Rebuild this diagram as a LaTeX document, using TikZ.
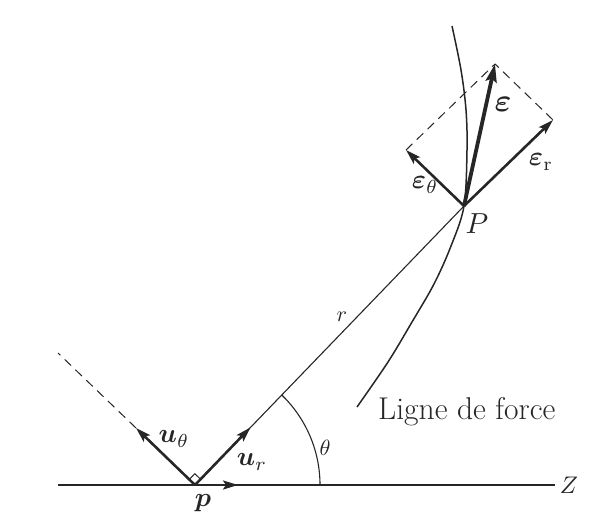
\documentclass[tikz,border=0pt]{standalone}
\usepackage{bm}
\usetikzlibrary{arrows.meta}
\begin{document}
\begin{tikzpicture}[x=1pt,y=1pt,
  ink/.style={draw=black!85},
  thinline/.style={ink,line width=1.1pt},
  fieldline/.style={ink,line width=1.5pt},
  dashline/.style={ink,line width=1pt,dash pattern=on 9pt off 6pt},
  vec/.style={ink,line width=2.6pt,-{Stealth[length=15pt,width=9pt,inset=3pt]}},
  bigvec/.style={ink,line width=3.8pt,-{Stealth[length=18pt,width=11pt,inset=3pt]}},
  lbl/.style={inner sep=0pt,text=black!85,font=\fontsize{10}{10}\selectfont}]
\useasboundingbox (0,0) rectangle (593,522);
% points
\coordinate (p) at (195,37);
\coordinate (P) at (464,316);
\coordinate (axL) at (58,37);
\coordinate (axR) at (555,37);
\coordinate (dpL) at (157,37);
\coordinate (dpR) at (238,37);
\coordinate (ur) at (250.5,94.6);
\coordinate (ut) at (136,94);
\coordinate (dashend) at (58,169);
\coordinate (Er) at (553,402);
\coordinate (Et) at (406,372);
\coordinate (E) at (495,458);
\coordinate (arcA) at (320,37);
% field line
\draw[fieldline] plot[smooth,tension=0.55] coordinates
  {(452,496) (461,452) (466,412) (467,372) (464,316) (451,276) (434,238) (412,200) (388,160) (357,115)};
% radius and axis
\draw[thinline] (p) -- (P);
\draw[thinline] (axL) -- (axR);
\draw[thinline] (arcA) arc[start angle=0,end angle=46,radius=125];
% dipole vector
\draw[vec,line width=2.4pt] (dpL) -- (dpR);
% unit vectors
\draw[dashline] (ut) -- (dashend);
\draw[vec] (p) -- (ur);
\draw[vec] (p) -- (ut);
\draw[ink,line width=1pt] (p) ++(46:8) -- ++(136:8) -- ++(226:8);
% field components
\draw[dashline] (Et) -- (E) -- (Er);
\draw[vec] (P) -- (Er);
\draw[vec] (P) -- (Et);
\draw[bigvec] (P) -- (E);
% labels
\node[lbl,scale=2.9] (Plab) at (477,298) {$P$};
\node[lbl,scale=2.4] (Zlab) at (569,37) {$Z$};
\node[lbl,scale=2.7] (plab) at (203,19) {$\bm{p}$};
\node[lbl,scale=2.7] (utlab) at (174,83) {$\bm{u}_\theta$};
\node[lbl,scale=2.7] (urlab) at (252,60) {$\bm{u}_r$};
\node[lbl,scale=2.2] (rlab) at (342,205) {$r$};
\node[lbl,scale=2.2] (thlab) at (325,74) {$\theta$};
\node[lbl,scale=3.2] (Elab) at (503,418) {$\bm{\varepsilon}$};
\node[lbl,scale=2.7] (Erlab) at (541,360) {$\bm{\varepsilon}_{\mathrm{r}}$};
\node[lbl,scale=2.7] (Etlab) at (425,337) {$\bm{\varepsilon}_\theta$};
\node[lbl,anchor=base west,font=\fontsize{31.5}{31.5}\selectfont] (lf) at (378,103) {Ligne de force};
\end{tikzpicture}
\end{document}
